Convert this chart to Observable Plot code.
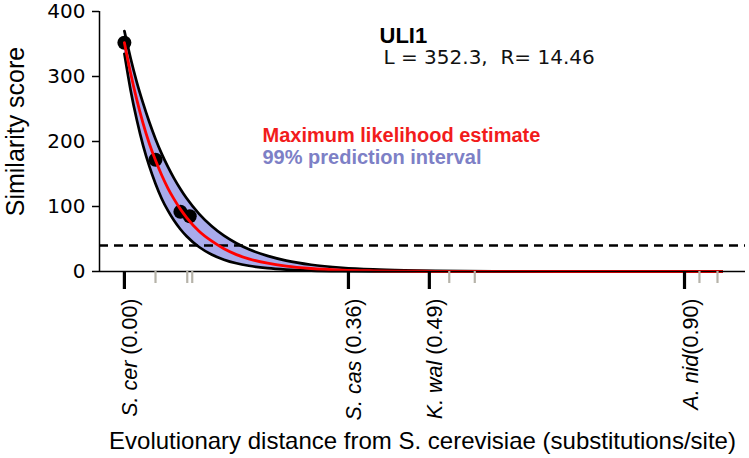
<!DOCTYPE html>
<html>
<head>
<meta charset="utf-8">
<script src="https://cdn.jsdelivr.net/npm/d3@7"></script>
<script src="https://cdn.jsdelivr.net/npm/@observablehq/plot@0.6"></script>
<style>
  html, body { margin: 0; padding: 0; background: white; }
</style>
</head>
<body>
<div id="chart"></div>
<script>
// ---- data ----
const distD      = [0, 0.01, 0.02, 0.03, 0.04, 0.05, 0.06, 0.07, 0.08, 0.09, 0.10, 0.12, 0.14, 0.16, 0.18, 0.20, 0.23, 0.26, 0.30, 0.35, 0.40, 0.45, 0.50, 0.60, 0.70, 0.80, 0.96];
const mleScore   = [352, 305, 264, 228, 197, 171, 148, 128, 111, 96, 83, 62, 47, 35, 26, 19.5, 12.7, 8.2, 4.6, 2.2, 1.1, 0.5, 0.25, 0.06, 0.014, 0.003, 0];
const upperScore = [370, 328, 291, 259, 230, 204, 181, 161, 143, 127, 112.6, 88.8, 70, 55.1, 43.5, 34.2, 24, 16.8, 10.4, 5.75, 3.17, 1.75, 0.96, 0.29, 0.09, 0.03, 0];
const lowerScore = [335, 279, 233, 194, 162, 135, 112, 93.6, 78, 65, 54.2, 37.7, 26.2, 18.2, 12.6, 8.8, 5.1, 2.95, 1.43, 0.57, 0.23, 0.09, 0.04, 0.006, 0, 0, 0];

const obsD     = [0, 0.05, 0.09, 0.105];
const obsScore = [352, 172, 92, 85];

const speciesLabel = ["S. cer (0.00)", "S. cas (0.36)", "K. wal (0.49)", "A. nid(0.90)"];
const speciesItalic = ["S. cer", "S. cas", "K. wal", "A. nid"];
const speciesD = [0, 0.36, 0.49, 0.90];
const minorD = [0.05, 0.101, 0.109, 0.522, 0.563, 0.924, 0.953];

const threshold = 40;
const yTicks = [0, 100, 200, 300, 400];

const geneName = "ULI1";
const paramText = "L = 352.3,  R= 14.46";
const legendMle = "Maximum likelihood estimate";
const legendPI = "99% prediction interval";
const xLabel = "Evolutionary distance from S. cerevisiae (substitutions/site)";
const yLabel = "Similarity score";

// ---- tables ----
const curve = distD.map((d, i) => ({d, mle: mleScore[i], hi: upperScore[i], lo: lowerScore[i]}));
const obs = obsD.map((d, i) => ({d, s: obsScore[i]}));
const species = speciesD.map((d, i) => ({d, label: speciesLabel[i]}));

const xDomain = [-0.04, 0.998];
const W = 749, H = 458;
const plot = Plot.plot({
  width: W,
  height: H,
  marginLeft: 99,
  marginRight: 4,
  marginTop: 11,
  marginBottom: 187,
  style: {fontFamily: "Liberation Sans, Arial, sans-serif", fontSize: "20px", background: "white", overflow: "visible"},
  x: {domain: xDomain, axis: null},
  y: {domain: [0, 400], axis: null},
  marks: [
    Plot.areaY(curve, {x: "d", y1: "lo", y2: "hi", fill: "#a9abeb", curve: "monotone-x"}),
    Plot.ruleY([threshold], {stroke: "black", strokeWidth: 2.6, strokeDasharray: "9,6"}),
    Plot.lineY(curve, {x: "d", y: "hi", stroke: "black", strokeWidth: 2.7, curve: "monotone-x"}),
    Plot.lineY(curve, {x: "d", y: "lo", stroke: "black", strokeWidth: 2.7, curve: "monotone-x"}),
    Plot.dot(obs, {x: "d", y: "s", r: 7, fill: "black"}),
    Plot.lineY(curve, {x: "d", y: "mle", stroke: "#ff0000", strokeWidth: 2.8, curve: "monotone-x"}),
    // spines
    Plot.ruleY([0], {stroke: "black", strokeWidth: 1.5}),
    Plot.ruleX([xDomain[0]], {y1: 0, y2: 400, stroke: "black", strokeWidth: 1.5}),
    // y axis ticks and labels
    Plot.ruleY(yTicks, {y: d => d, x1: xDomain[0], x2: xDomain[0], insetLeft: -7, stroke: "black", strokeWidth: 1.5}),
    Plot.text(yTicks, {x: xDomain[0], y: d => d, text: d => String(d), textAnchor: "end", dx: -14, fontSize: 20, fontFamily: "DejaVu Sans", fill: "black"}),
    // x ticks
    Plot.ruleX(minorD, {x: d => d, y1: 0, y2: 0, insetBottom: -12, stroke: "#b6b3a9", strokeWidth: 2.2}),
    Plot.ruleX(speciesD, {x: d => d, y1: 0, y2: 0, insetBottom: -18, stroke: "black", strokeWidth: 3.2}),
    // species labels
    Plot.text(species, {x: "d", text: "label", frameAnchor: "bottom", rotate: -90, textAnchor: "end", lineAnchor: "bottom", dx: 13, dy: 27, fontSize: 21.5, fill: "black"}),
    // axis labels
    Plot.text([xLabel], {frameAnchor: "bottom", lineAnchor: "bottom", dy: 177, fontSize: 24, fill: "black"}),
    Plot.text([yLabel], {frameAnchor: "left", rotate: -90, lineAnchor: "bottom", textAnchor: "middle", dx: -76, dy: -10, fontSize: 25, fill: "black"}),
    // title / params
    Plot.text([geneName], {frameAnchor: "top-left", textAnchor: "start", lineAnchor: "bottom", dx: 280, dy: 31, fontSize: 22, fontWeight: "bold", fill: "black"}),
    Plot.text([paramText], {frameAnchor: "top-left", textAnchor: "start", lineAnchor: "bottom", dx: 284, dy: 52, fontSize: 20, fontFamily: "DejaVu Sans", fill: "#111"}),
    // legend
    Plot.text([legendMle], {frameAnchor: "top-left", textAnchor: "start", lineAnchor: "bottom", dx: 163, dy: 130, fontSize: 20, fontWeight: "bold", fill: "#f21c1c"}),
    Plot.text([legendPI], {frameAnchor: "top-left", textAnchor: "start", lineAnchor: "bottom", dx: 163, dy: 152, fontSize: 20, fontWeight: "bold", fill: "#7d80c6"})
  ]
});

// italicize species names
plot.querySelectorAll("text").forEach(t => {
  const s = t.textContent;
  const idx = speciesLabel.indexOf(s);
  if (idx >= 0) {
    const it = speciesItalic[idx];
    const rest = s.slice(it.length);
    t.textContent = "";
    const a = document.createElementNS("http://www.w3.org/2000/svg", "tspan");
    a.setAttribute("font-style", "italic");
    a.textContent = it;
    const b = document.createElementNS("http://www.w3.org/2000/svg", "tspan");
    b.textContent = rest;
    t.appendChild(a);
    t.appendChild(b);
  }
});

document.getElementById("chart").appendChild(plot);
</script>
</body>
</html>
